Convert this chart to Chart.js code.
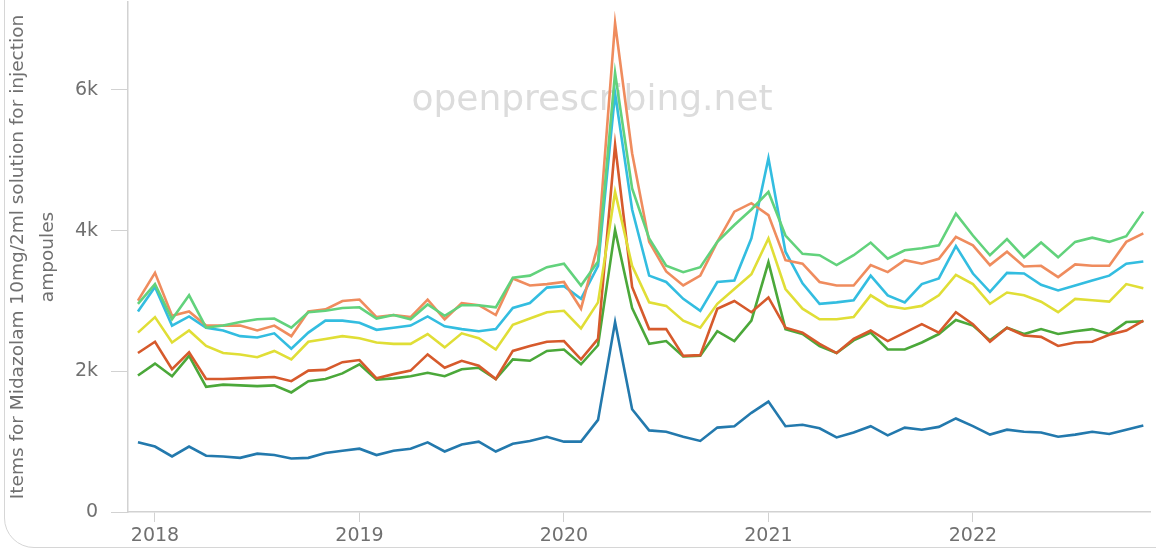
<!DOCTYPE html>
<html>
<head>
<meta charset="utf-8">
<script src="https://cdn.jsdelivr.net/npm/chart.js@4/dist/chart.umd.min.js"></script>
<style>
html, body { margin:0; padding:0; background:#fff; overflow:hidden; }
#frame { position:absolute; left:4px; top:-40px; width:1220px; height:586px; border:1.5px solid #d6d6d6; border-radius:30px; }
#chart { position:absolute; left:0; top:0; }
</style>
</head>
<body>
<div id="frame"></div>
<canvas id="chart" width="1156" height="549"></canvas>
<script>
// months Dec 2017 .. Nov 2022
let startYear = 2017, startMonth = 12, monthCount = 60;
let months = [];
for(let i = 0; i < monthCount; i++){
    let m = startMonth - 1 + i;
    let y = startYear + Math.floor(m / 12);
    months.push(y + '-' + String(m % 12 + 1).padStart(2, '0'));
}

let yearTicks = [2018, 2019, 2020, 2021, 2022];
let valueTicks = [0, 2000, 4000, 6000];

// series, one value per month
let blueSeries = [990,930,790,930,800,790,770,830,810,760,770,840,870,900,810,870,900,990,860,960,
    1000,860,970,1010,1070,1000,1000,1310,2700,1460,1160,1140,1070,1010,1200,1220,1410,1570,1220,1240,
    1190,1060,1130,1220,1090,1200,1170,1210,1330,1220,1100,1170,1140,1130,1070,1100,1140,1110,1170,1230];

let darkGreenSeries = [1940,2110,1930,2220,1780,1810,1800,1790,1800,1700,1860,1890,1970,2100,1880,1900,1930,1980,1930,2030,
    2050,1890,2170,2150,2290,2310,2100,2370,4010,2900,2390,2430,2210,2220,2570,2430,2720,3550,2600,2530,
    2360,2260,2440,2550,2310,2310,2410,2530,2730,2650,2440,2620,2530,2600,2530,2570,2600,2530,2700,2710];

let redSeries = [2260,2420,2030,2270,1890,1890,1900,1910,1920,1860,2010,2020,2130,2160,1900,1960,2010,2240,2050,2150,
    2080,1890,2290,2360,2420,2430,2170,2460,5220,3200,2600,2600,2220,2230,2890,3000,2840,3050,2620,2550,
    2390,2260,2460,2580,2430,2550,2670,2550,2840,2670,2420,2620,2510,2490,2360,2410,2420,2520,2580,2720];

let yellowSeries = [2550,2770,2410,2580,2360,2260,2240,2200,2290,2170,2420,2460,2500,2470,2410,2390,2390,2530,2340,2540,
    2470,2310,2660,2750,2840,2860,2610,2980,4550,3500,2980,2930,2720,2620,2960,3170,3380,3890,3170,2890,
    2740,2740,2770,3080,2930,2890,2930,3080,3370,3240,2960,3120,3080,2990,2840,3030,3010,2990,3240,3180];

let cyanSeries = [2850,3200,2650,2780,2620,2580,2500,2480,2540,2320,2550,2720,2720,2690,2590,2620,2650,2780,2640,2600,
    2570,2600,2900,2970,3190,3210,3030,3500,5950,4300,3360,3270,3030,2860,3270,3290,3890,5030,3700,3250,
    2960,2980,3010,3360,3080,2980,3240,3320,3780,3390,3130,3400,3390,3230,3150,3220,3290,3360,3530,3560];

let salmonSeries = [3005,3400,2790,2850,2650,2650,2650,2580,2650,2500,2850,2880,3000,3020,2770,2800,2770,3020,2740,2970,
    2940,2800,3320,3220,3240,3270,2890,3800,6950,5100,3840,3420,3220,3360,3840,4270,4390,4220,3580,3530,
    3270,3220,3220,3510,3410,3580,3530,3600,3910,3790,3510,3700,3490,3500,3340,3520,3500,3500,3840,3960];

let lightGreenSeries = [2960,3240,2740,3080,2620,2650,2700,2740,2750,2620,2840,2860,2900,2910,2750,2800,2740,2950,2790,2940,
    2940,2910,3330,3360,3480,3530,3220,3560,6240,4600,3890,3500,3410,3480,3840,4080,4300,4550,3930,3670,
    3650,3510,3650,3830,3600,3720,3750,3790,4240,3930,3650,3880,3620,3830,3620,3840,3900,3840,3920,4270];

let yTitle = ['Items for Midazolam 10mg/2ml solution for injection', 'ampoules'];

function monthToX(label){
    let parts = label.split('-');
    return Number(parts[0]) + (Number(parts[1]) - 1) / 12;
}

function toPoints(values){
    return values.map((v, i) => ({x: monthToX(months[i]), y: v}));
}

let lineColors = ['#62d27c', '#ef8c5e', '#33bde0', '#e0de36', '#d65a2c', '#4ba83a', '#2379ad'];
let allSeries = [lightGreenSeries, salmonSeries, cyanSeries, yellowSeries, redSeries, darkGreenSeries, blueSeries];

let datasets = [];
for(let i = 0; i < allSeries.length; i++){
    datasets.push({
        data: toPoints(allSeries[i]),
        borderColor: lineColors[i],
        borderWidth: 2.6,
        pointRadius: 0,
        tension: 0,
        fill: false
    });
}

// watermark behind the lines
let watermark = {
    id: 'watermark',
    beforeDatasetsDraw(chart){
        let ctx = chart.ctx;
        ctx.save();
        ctx.font = '36px "DejaVu Sans"';
        ctx.fillStyle = '#dcdcdc';
        ctx.textAlign = 'center';
        ctx.textBaseline = 'alphabetic';
        ctx.fillText('openprescribing.net', 592, 110);
        ctx.restore();
    }
};

let labelFont = {family: '"DejaVu Sans"', size: 19};

new Chart(document.getElementById('chart'), {
    type: 'line',
    data: {datasets: datasets},
    plugins: [watermark],
    options: {
        responsive: false,
        animation: false,
        devicePixelRatio: 1,
        layout: {padding: {top: 2, right: 6, left: 0, bottom: 0}},
        plugins: {legend: {display: false}, tooltip: {enabled: false}},
        scales: {
            x: {
                type: 'linear',
                min: 2017.868,
                max: 2022.866,
                afterBuildTicks: (scale) => { scale.ticks = yearTicks.map(v => ({value: v})); },
                afterFit: (scale) => { scale.height = 37; scale.paddingLeft = 0; scale.paddingRight = 0; },
                border: {color: '#d2d2d2', width: 1.5},
                grid: {drawOnChartArea: false, drawTicks: true, tickLength: 10, color: '#d2d2d2'},
                ticks: {color: '#707070', font: labelFont, padding: 3, callback: v => String(v)}
            },
            y: {
                min: 0,
                max: 7250,
                afterBuildTicks: (scale) => { scale.ticks = valueTicks.map(v => ({value: v})); },
                afterFit: (scale) => { scale.width = 128; scale.paddingTop = 0; scale.paddingBottom = 0; },
                border: {color: '#d2d2d2', width: 1.5},
                grid: {drawOnChartArea: false, drawTicks: true, tickLength: 17, color: '#d2d2d2'},
                ticks: {color: '#707070', font: labelFont, padding: 13, callback: v => v === 0 ? '0' : (v / 1000) + 'k'},
                title: {
                    display: true,
                    text: yTitle,
                    color: '#707070',
                    font: {family: '"DejaVu Sans"', size: 18.5, lineHeight: 1.62},
                    padding: {top: 3, bottom: 0}
                }
            }
        }
    }
});
</script>
</body>
</html>
